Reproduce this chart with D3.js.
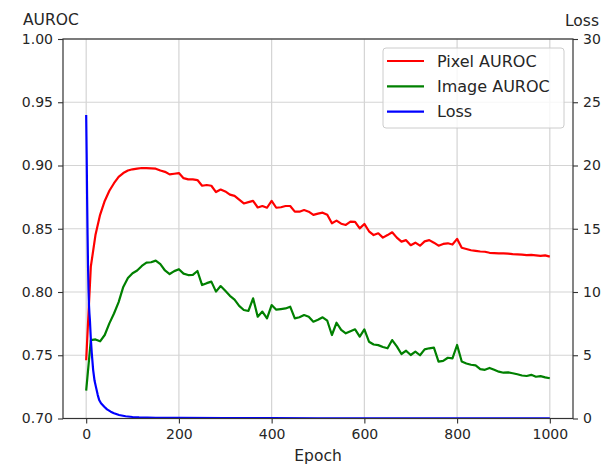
<!DOCTYPE html>
<html>
<head>
<meta charset="utf-8">
<script src="https://cdn.jsdelivr.net/npm/d3@7"></script>
<style>
  html, body { margin: 0; padding: 0; background: #fff; }
  svg { display: block; font-family: "DejaVu Sans", sans-serif; }
</style>
</head>
<body>
<svg id="chart" width="605" height="466"></svg>
<script>
// Evaluation every 10 epochs
const epochs = d3.range(0, 1001, 10);

const pixelAuroc = [
  0.746, 0.820, 0.845, 0.861, 0.872, 0.880, 0.886, 0.891, 0.894, 0.896,
  0.897, 0.8975, 0.898, 0.898, 0.8978, 0.8975, 0.896, 0.895, 0.893, 0.8935,
  0.894, 0.890, 0.889, 0.889, 0.8885, 0.884, 0.8846, 0.884, 0.879, 0.881,
  0.8795, 0.877, 0.876, 0.873, 0.870, 0.871, 0.872, 0.8668, 0.868, 0.8666,
  0.872, 0.8666, 0.867, 0.868, 0.868, 0.8635, 0.8635, 0.8648, 0.8635, 0.861,
  0.862, 0.8627, 0.861, 0.8543, 0.8564, 0.854, 0.853, 0.8556, 0.8555, 0.8503,
  0.8538, 0.848, 0.845, 0.8464, 0.843, 0.845, 0.8472, 0.843, 0.8398, 0.841,
  0.837, 0.839, 0.8366, 0.840, 0.841, 0.839, 0.8366, 0.838, 0.8385, 0.8375,
  0.842, 0.835, 0.834, 0.833, 0.8325, 0.832, 0.8318, 0.831, 0.8308, 0.8306,
  0.8306, 0.8303, 0.830, 0.8298, 0.8295, 0.8292, 0.8293, 0.829, 0.8285, 0.829,
  0.828
];

const imageAuroc = [
  0.722, 0.762, 0.7625, 0.761, 0.766, 0.7752, 0.783, 0.792, 0.804, 0.811,
  0.8148, 0.817, 0.8206, 0.8232, 0.8235, 0.8248, 0.822, 0.817, 0.8142, 0.8165,
  0.818, 0.8145, 0.8134, 0.8135, 0.8166, 0.8055, 0.807, 0.8082, 0.8003, 0.8047,
  0.801, 0.797, 0.794, 0.789, 0.7858, 0.785, 0.795, 0.7805, 0.7845, 0.7792,
  0.7897, 0.786, 0.7865, 0.787, 0.7884, 0.7792, 0.780, 0.7818, 0.7805, 0.7765,
  0.778, 0.780, 0.7773, 0.766, 0.7757, 0.770, 0.7673, 0.769, 0.7705, 0.7647,
  0.7705, 0.7607, 0.7585, 0.758, 0.7565, 0.7555, 0.762, 0.757, 0.751, 0.7536,
  0.7502, 0.7528, 0.750, 0.7547, 0.7555, 0.756, 0.745, 0.7455, 0.748, 0.7475,
  0.7581, 0.745, 0.7435, 0.7425, 0.742, 0.739, 0.7385, 0.740, 0.7385, 0.737,
  0.7362, 0.7365, 0.7358, 0.735, 0.734, 0.7336, 0.7345, 0.733, 0.7335, 0.7325,
  0.7318
];

// Training loss is logged more densely at the start
const lossEpochs = [0, 1, 2, 3, 4, 5, 6, 7, 8, 10, 12, 15, 18, 21, 25, 28, 32, 39, 45, 53,
  60, 71, 85, 100, 114, 150, 200, 300, 400, 500, 600, 700, 800, 900, 1000];
const lossValues = [24, 21, 17.5, 14.5, 12, 10.2, 9, 8.3, 7.8, 6.3, 5.2, 3.85, 3.0, 2.5, 1.85, 1.46, 1.2, 0.93, 0.72, 0.54,
  0.42, 0.28, 0.18, 0.12, 0.09, 0.06, 0.045, 0.03, 0.025, 0.02, 0.018, 0.015, 0.013, 0.012, 0.01];

const xTicks = [0, 200, 400, 600, 800, 1000];
const aurocTicks = [0.70, 0.75, 0.80, 0.85, 0.90, 0.95, 1.00];
const lossTicks = [0, 5, 10, 15, 20, 25, 30];

const seriesNames = ["Pixel AUROC", "Image AUROC", "Loss"];
const seriesColors = ["#ff0000", "#008000", "#0000ff"];

const box = { left: 63, right: 573, top: 39, bottom: 418.5 };
const svg = d3.select("#chart");

const x = d3.scaleLinear().domain([-50, 1050]).range([box.left, box.right]);
const yA = d3.scaleLinear().domain([0.70, 1.00]).range([box.bottom, box.top]);
const yL = d3.scaleLinear().domain([0, 30]).range([box.bottom, box.top]);

svg.append("defs").append("clipPath").attr("id", "plotclip")
  .append("rect").attr("x", box.left).attr("y", box.top)
  .attr("width", box.right - box.left).attr("height", box.bottom - box.top);

// grid
const grid = svg.append("g").attr("stroke", "#d4d4d4").attr("stroke-width", 1.2);
grid.selectAll("line.v").data(xTicks).join("line").attr("class", "v")
  .attr("x1", d => x(d)).attr("x2", d => x(d)).attr("y1", box.top).attr("y2", box.bottom);
grid.selectAll("line.h").data(aurocTicks).join("line").attr("class", "h")
  .attr("y1", d => yA(d)).attr("y2", d => yA(d)).attr("x1", box.left).attr("x2", box.right);

// series
const plot = svg.append("g").attr("clip-path", "url(#plotclip)");
const lineA = data => d3.line().x((d, i) => x(epochs[i])).y(d => yA(d))(data);
plot.append("path").attr("d", lineA(pixelAuroc))
  .attr("fill", "none").attr("stroke", seriesColors[0]).attr("stroke-width", 2.2).attr("stroke-linejoin", "round");
plot.append("path").attr("d", lineA(imageAuroc))
  .attr("fill", "none").attr("stroke", seriesColors[1]).attr("stroke-width", 2.2).attr("stroke-linejoin", "round");
plot.append("path")
  .attr("d", d3.line().x((d, i) => x(lossEpochs[i])).y(d => yL(d))(lossValues))
  .attr("fill", "none").attr("stroke", seriesColors[2]).attr("stroke-width", 2.2).attr("stroke-linejoin", "round");

// axes
const styleAxis = g => {
  g.select(".domain").remove();
  g.selectAll(".tick line").attr("stroke", "#333").attr("stroke-width", 1.1);
  g.selectAll(".tick text").attr("fill", "#262626")
    .style("font-family", "DejaVu Sans, sans-serif").style("font-size", "14px");
};
svg.append("g").attr("transform", `translate(0,${box.bottom})`)
  .call(d3.axisBottom(x).tickValues(xTicks).tickSize(5).tickPadding(6).tickFormat(d3.format("d")))
  .call(styleAxis);
svg.append("g").attr("transform", `translate(${box.left},0)`)
  .call(d3.axisLeft(yA).tickValues(aurocTicks).tickSize(5).tickPadding(5).tickFormat(d3.format(".2f")))
  .call(styleAxis);
svg.append("g").attr("transform", `translate(${box.right},0)`)
  .call(d3.axisRight(yL).tickValues(lossTicks).tickSize(5).tickPadding(5).tickFormat(d3.format("d")))
  .call(styleAxis);

// frame
svg.append("rect").attr("x", box.left).attr("y", box.top)
  .attr("width", box.right - box.left).attr("height", box.bottom - box.top)
  .attr("fill", "none").attr("stroke", "#333").attr("stroke-width", 1.2);

// axis titles
const label = (t, px, py, anchor) => svg.append("text").text(t)
  .attr("x", px).attr("y", py).attr("text-anchor", anchor)
  .attr("fill", "#262626").style("font-size", "15.5px");
label("AUROC", 23, 25, "start");
label("Loss", 599, 26, "end");
label("Epoch", (box.left + box.right) / 2, 461, "middle");

// legend
const lg = svg.append("g");
lg.append("rect").attr("x", 383).attr("y", 48).attr("width", 181).attr("height", 80)
  .attr("rx", 3).attr("fill", "#fff").attr("fill-opacity", 0.8)
  .attr("stroke", "#cccccc").attr("stroke-width", 1);
seriesNames.forEach((name, i) => {
  const yy = 61 + i * 25.3;
  lg.append("line").attr("x1", 387).attr("x2", 424).attr("y1", yy).attr("y2", yy)
    .attr("stroke", seriesColors[i]).attr("stroke-width", 2.2);
  lg.append("text").text(name).attr("x", 437).attr("y", yy + 5.5)
    .attr("fill", "#262626").style("font-size", "16px");
});
</script>
</body>
</html>
